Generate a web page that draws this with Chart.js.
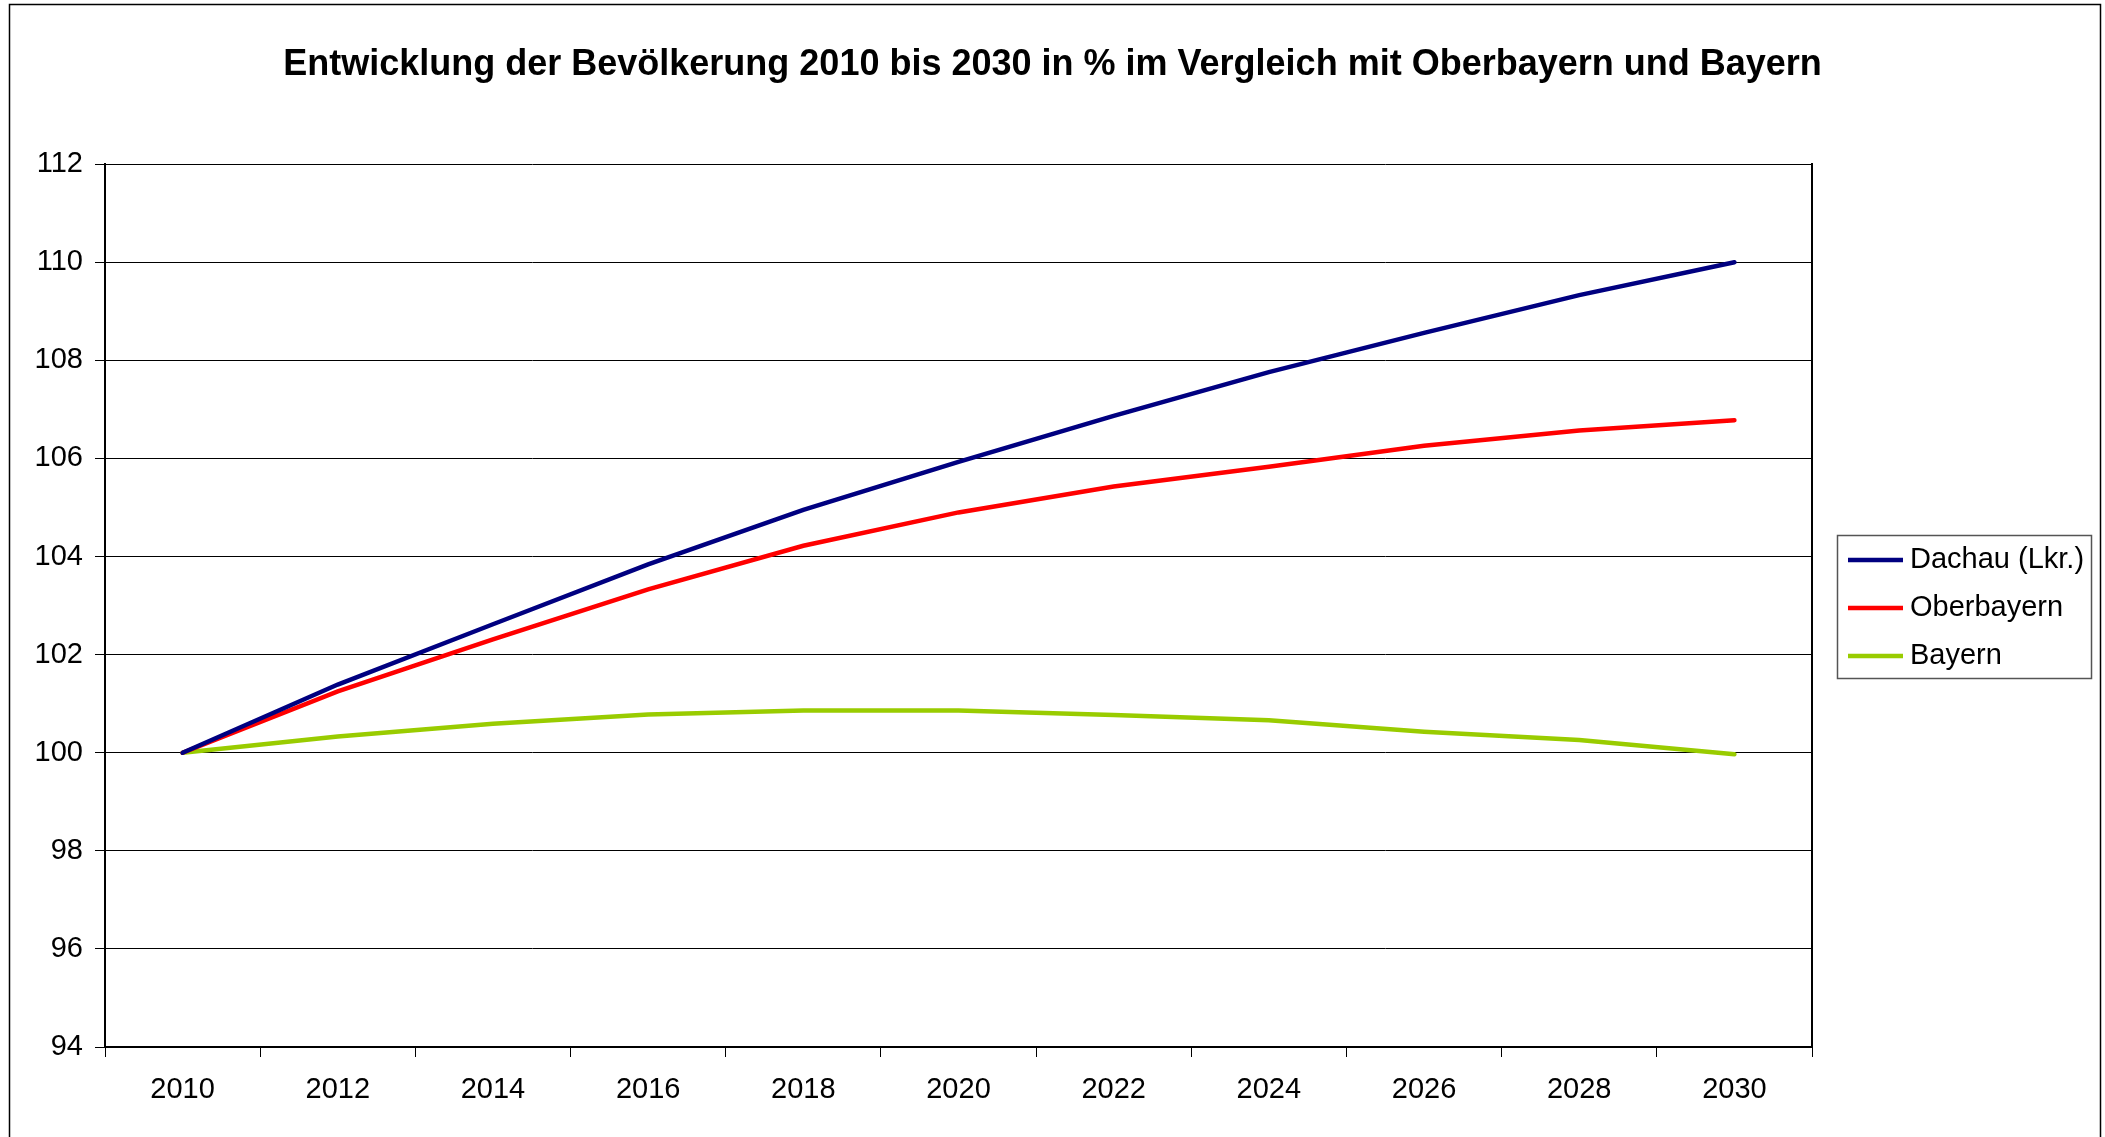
<!DOCTYPE html>
<html>
<head>
<meta charset="utf-8">
<script src="https://cdn.jsdelivr.net/npm/chart.js@4"></script>
<style>
  body { margin: 0; background: #fff; overflow: hidden; }
  #wrap { width: 2105px; height: 1137px; }
</style>
</head>
<body>
<div id="wrap"><canvas id="lineChart" width="2105" height="1137"></canvas></div>
<script>
var years = ["2010","2012","2014","2016","2018","2020","2022","2024","2026","2028","2030"];
var dachau = [100, 101.39, 102.62, 103.84, 104.95, 105.93, 106.87, 107.76, 108.56, 109.33, 110.0];
var oberbayern = [100, 101.25, 102.31, 103.33, 104.22, 104.9, 105.43, 105.83, 106.26, 106.57, 106.78];
var bayern = [100, 100.33, 100.59, 100.78, 100.86, 100.86, 100.77, 100.66, 100.43, 100.26, 99.97];
var seriesNames = ["Dachau (Lkr.)", "Oberbayern", "Bayern"];
var seriesColors = ["#000080", "#ff0000", "#99cc00"];

var fontFamily = "'Liberation Sans', Arial, sans-serif";

// frame around the whole chart + boxed legend like the Excel original
const excelLook = {
  id: 'excelLook',
  beforeDraw(chart) {
    const ctx = chart.ctx;
    ctx.save();
    ctx.fillStyle = '#fff';
    ctx.fillRect(0, 0, chart.width, chart.height);
    ctx.strokeStyle = '#000';
    ctx.lineWidth = 1.5;
    ctx.strokeRect(9.5, 4.5, 2091, 1200);
    ctx.restore();
  },
  afterDraw(chart) {
    const ctx = chart.ctx;
    ctx.save();
    ctx.strokeStyle = '#555';
    ctx.lineWidth = 1.5;
    ctx.strokeRect(1837.5, 535.5, 254, 143);
    ctx.font = '29px ' + fontFamily;
    ctx.textBaseline = 'middle';
    chart.data.datasets.forEach(function (ds, i) {
      var y = 560 + i * 48;
      ctx.strokeStyle = ds.borderColor;
      ctx.lineWidth = 4.5;
      ctx.beginPath();
      ctx.moveTo(1848, y);
      ctx.lineTo(1903, y);
      ctx.stroke();
      ctx.fillStyle = '#000';
      ctx.fillText(ds.label, 1910, y);
    });
    ctx.restore();
  }
};

const data = {
  labels: years,
  datasets: [
    { label: seriesNames[0], data: dachau, borderColor: seriesColors[0] },
    { label: seriesNames[1], data: oberbayern, borderColor: seriesColors[1] },
    { label: seriesNames[2], data: bayern, borderColor: seriesColors[2] }
  ]
};

const configLine = {
  type: 'line',
  data: data,
  options: {
    responsive: false,
    animation: false,
    layout: { padding: 0 },
    elements: {
      line: { borderWidth: 4.5, tension: 0, borderCapStyle: 'round' },
      point: { radius: 0 }
    },
    plugins: {
      legend: { display: false },
      tooltip: { enabled: false },
      title: {
        display: true,
        text: 'Entwicklung der Bevölkerung 2010 bis 2030 in % im Vergleich mit Oberbayern und Bayern',
        color: '#000',
        font: { family: fontFamily, size: 36, weight: 'bold' },
        padding: { top: 43, bottom: 78 }
      }
    },
    scales: {
      x: {
        type: 'category',
        offset: true,
        grid: { display: true, drawOnChartArea: false, drawTicks: true, tickLength: 10, offset: true, color: '#000', lineWidth: 1 },
        border: { display: true, color: '#000', width: 2 },
        ticks: { color: '#000', padding: 16, maxRotation: 0, font: { family: fontFamily, size: 29 } },
        afterFit: function (scale) { scale.height = 90; }
      },
      y: {
        min: 94,
        max: 112,
        ticks: { stepSize: 2, color: '#000', padding: 12, font: { family: fontFamily, size: 29 } },
        grid: { color: '#000', lineWidth: 1, tickLength: 10 },
        border: { display: true, color: '#000', width: 2 },
        afterFit: function (scale) { scale.width = 105; }
      },
      // empty axis on the right only to keep room for the legend box
      side: {
        position: 'right',
        ticks: { display: false },
        grid: { display: false },
        border: { display: true, color: '#000', width: 2 },
        afterFit: function (scale) { scale.width = 293; }
      }
    }
  },
  plugins: [excelLook]
};

var canvasLine = document.getElementById("lineChart");
var LineChart = new Chart(canvasLine, configLine);
</script>
</body>
</html>
